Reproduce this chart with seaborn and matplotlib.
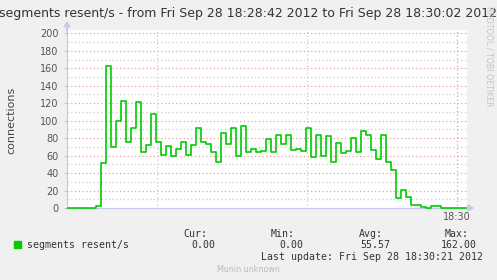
import numpy as np
import pandas as pd
import matplotlib
matplotlib.use("Agg")
import matplotlib.pyplot as plt
import seaborn as sns

# ---- data (segments resent/s, one sample per second from ~18:28:41.7) ----
values = [0, 0, 0, 0, 0, 0, 2, 52, 162, 70,
          100, 122, 75, 92, 121, 64, 72, 108, 76, 61,
          71, 60, 67, 75, 61, 72, 92, 76, 73, 64,
          53, 86, 73, 92, 60, 94, 64, 68, 64, 65,
          79, 64, 84, 73, 83, 66, 68, 65, 92, 58,
          84, 60, 82, 53, 74, 63, 65, 80, 64, 88,
          84, 66, 56, 83, 53, 44, 12, 21, 13, 3,
          3, 1, 0, 2, 2, 0, 0, 0, 0, 0, 0, 0]
start_offset = -0.26  # seconds relative to 18:28:42
y_ticks = [0, 20, 40, 60, 80, 100, 120, 140, 160, 180, 200]
x_major = [78]           # 18:30:00
x_major_labels = ["18:30"]
x_minor = [18, 48]       # 18:29:00, 18:29:30
title = "segments resent/s - from Fri Sep 28 18:28:42 2012 to Fri Sep 28 18:30:02 2012"
legend_label = "segments resent/s"
stat_names = ["Cur:", "Min:", "Avg:", "Max:"]
stat_values = ["0.00", "0.00", "55.57", "162.00"]

df = pd.DataFrame({"t": np.arange(len(values)) + start_offset, "v": values})

W, H = 497, 280
sns.set_theme(style="white")
plt.rcParams["font.family"] = ["DejaVu Sans"]
fig = plt.figure(figsize=(W / 100, H / 100), dpi=100, facecolor="#F0F0F0")

def px(x, y):
    return x / W, 1 - y / H

ax = fig.add_axes([67 / W, (H - 209) / H, 400 / W, 179 / H])
ax.set_facecolor("white")
s = 200 / (208 - 33.3)
ax.set_ylim(-1 * s, 200 + 3.3 * s)
ax.set_xlim(0, 80)

# grid lines
for yv in range(10, 201, 10):
    col = "#E4A0A0" if yv % 20 == 0 else "#CCCCCC"
    ax.axhline(yv, color=col, lw=0.9, ls=(0, (1, 2)), zorder=1)
for xv in x_minor:
    ax.axvline(xv, color="#CCCCCC", lw=0.9, ls=(0, (1, 2)), zorder=1)
for xv in x_major:
    ax.axvline(xv, color="#E4A0A0", lw=0.9, ls=(0, (1, 2)), zorder=1)

sns.lineplot(data=df, x="t", y="v", drawstyle="steps-post", color="#00CC00",
             lw=1.2, ax=ax, zorder=3, estimator=None)

for sp in ["top", "right"]:
    ax.spines[sp].set_visible(False)
ax.spines["left"].set_color("#C8C8F0")
ax.spines["bottom"].set_color("#C8C8F0")
ax.spines["bottom"].set_position(("data", 0))
ax.spines["left"].set_linewidth(0.9)
ax.spines["bottom"].set_linewidth(0.9)

ax.set_yticks(y_ticks)
ax.set_yticklabels([str(v) for v in y_ticks], fontsize=7, color="#555555")
ax.set_xticks(x_major)
ax.set_xticklabels(x_major_labels, fontsize=7, color="#555555")
ax.tick_params(axis="y", length=2, width=0.6, color="#BBBBBB", pad=4, left=True)
ax.tick_params(axis="x", length=0, pad=3)
ax.set_xlabel("")
ax.set_ylabel("")

# arrows on axes
fig.patches.append(matplotlib.patches.FancyArrow(67 / W, 1 - 31 / H, 0, 4 / H,
                   width=0.0, head_width=6 / W, head_length=5 / H,
                   length_includes_head=False, color="#C8C8F0",
                   transform=fig.transFigure, figure=fig))
fig.patches.append(matplotlib.patches.FancyArrow(467 / W, 1 - 208 / H, 1 / W, 0,
                   width=0.0, head_width=6 / H, head_length=5 / W,
                   color="#C8C8F0", transform=fig.transFigure, figure=fig))

# texts
fig.text(*px(248, 13), title, ha="center", va="center", fontsize=9, color="#333333")
fig.text(*px(11, 120), "connections", rotation=90, ha="center", va="center",
         fontsize=8, color="#444444")
fig.text(*px(488.5, 107), "RRDTOOL / TOBI OETIKER", rotation=270, ha="center",
         va="bottom", fontsize=5.7, color="#C4C4C4")

mono = "DejaVu Sans Mono"
fig.patches.append(matplotlib.patches.Rectangle(px(14, 247.5), 6.5 / W, 6.5 / H,
                   color="#00CC00", transform=fig.transFigure, figure=fig))
fig.text(*px(27, 245), legend_label, ha="left", va="center", family=mono,
         fontsize=7.1, color="#333333")
name_right = [207, 295, 383, 469]
val_right = [215, 303, 390, 477]
for n, xr in zip(stat_names, name_right):
    fig.text(*px(xr, 234), n, ha="right", va="center", family=mono,
             fontsize=7.1, color="#333333")
for v, xr in zip(stat_values, val_right):
    fig.text(*px(xr, 245), v, ha="right", va="center", family=mono,
             fontsize=7.1, color="#333333")
fig.text(*px(483, 257), "Last update: Fri Sep 28 18:30:21 2012", ha="right",
         va="center", family=mono, fontsize=7.1, color="#333333")
fig.text(*px(248.5, 269), "Munin unknown", ha="center", va="center",
         fontsize=5.8, color="#BBBBBB")

fig.savefig("out.png", dpi=100, facecolor=fig.get_facecolor())
